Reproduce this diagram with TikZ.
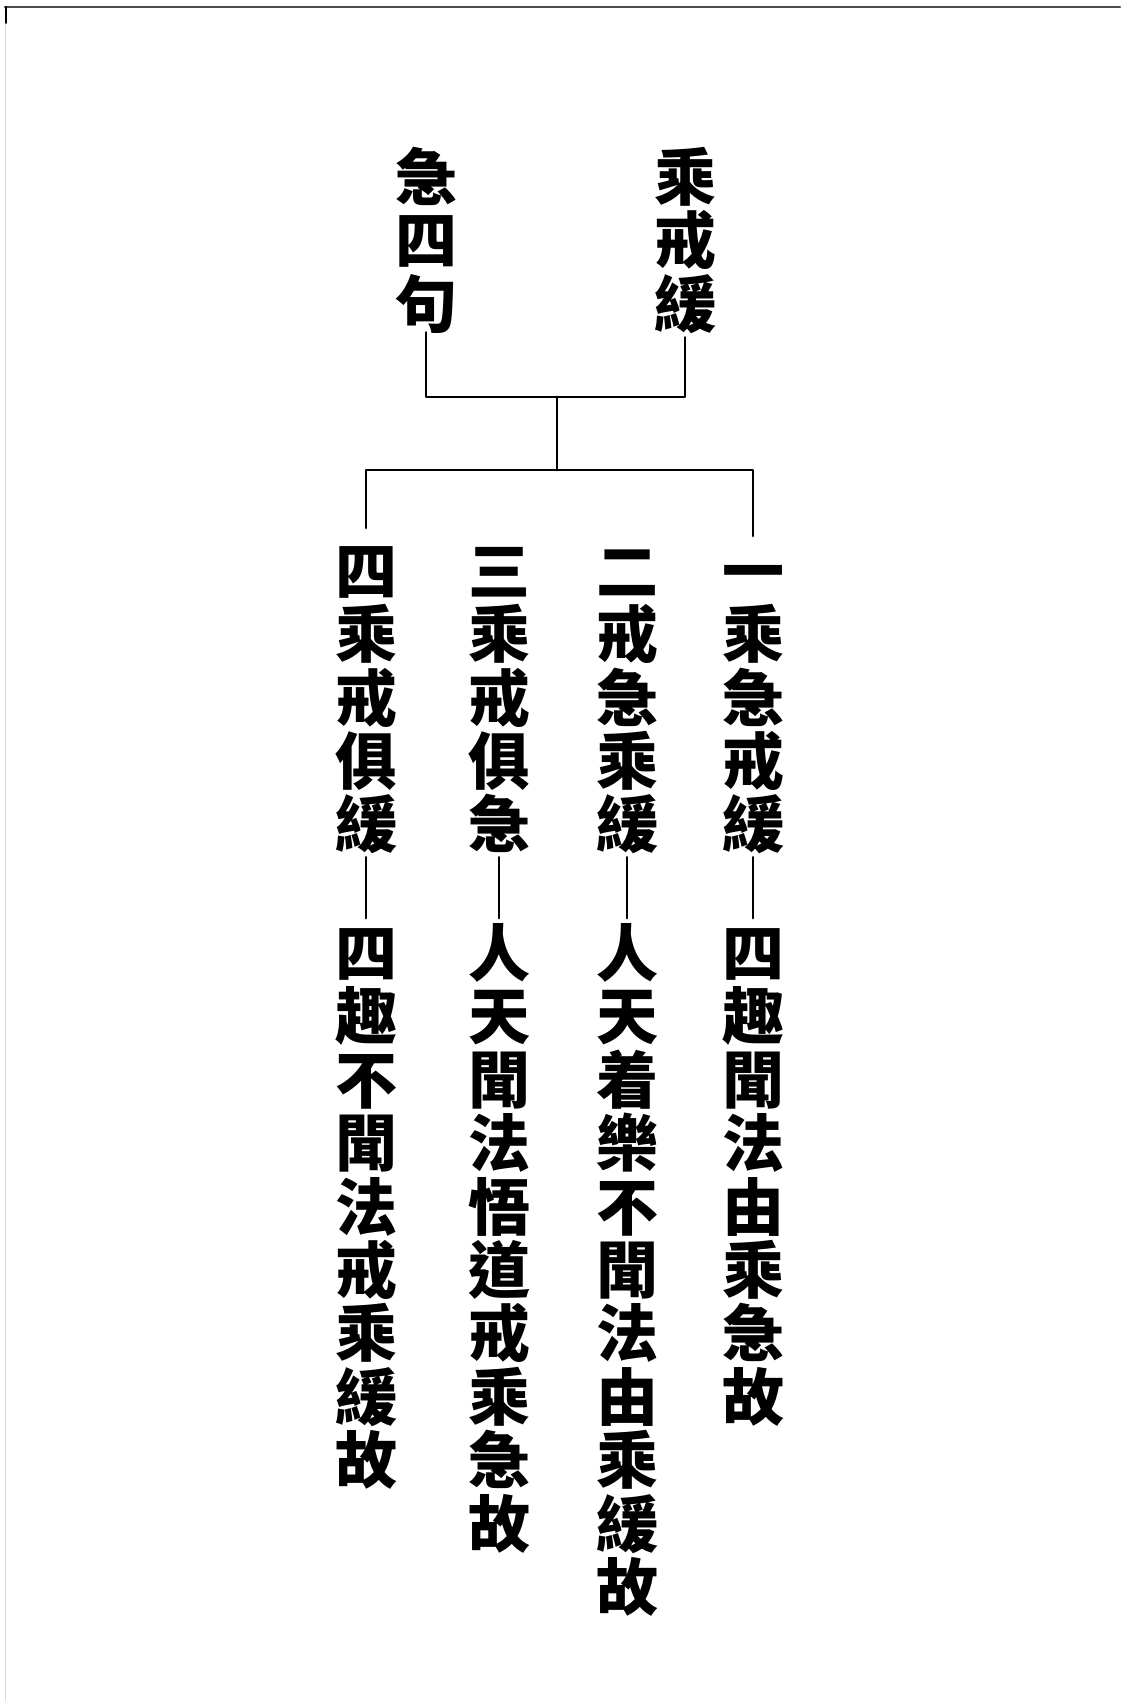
\documentclass[tikz,border=0pt]{standalone}
\usepackage{fontspec}
\newfontfamily\cjk{Noto Sans CJK TC}
\usetikzlibrary{positioning}
\XeTeXuseglyphmetrics=0
\newcommand\colfont{\cjk\bfseries\fontsize{31}{31.7}\selectfont\lineskiplimit=-100pt\relax}
\tikzset{
  col/.style={font=\colfont,align=center,inner sep=0pt,anchor=north},
  link/.style={line width=1.4pt},
  bar/.style={line width=1.3pt,shorten <=-4.5pt,shorten >=-7pt},
}
\begin{document}
\begin{tikzpicture}[x=0.5pt,y=-0.5pt,line join=round,line cap=round]
\useasboundingbox (0,0) rectangle (1120,1701);
% edge of the scanned page
\draw[gray!30,line width=0.8pt] (5.5,7) -- (5.5,1701);
\draw[black!70,line width=1.2pt] (5,7) -- (1120,7);
\draw[line width=1pt] (6,7) -- (6,23);

% two heads
\node[col] (ju) at (426,128) {急\\四\\句};
\node[col] (sheng) at (685,128) {乘\\戒\\緩};
\coordinate (hub) at (557,397);
\coordinate (fork) at (557,470);
\draw[link] ([yshift=6.5pt]ju.south) |- (hub) -| ([yshift=4pt]sheng.south);
\draw[link] (hub) -- (fork);

% four sentences
\node[col] (h1) at (753,522) {一\\乘\\急\\戒\\緩};
\node[col,below=19pt of h1] (t1) {四\\趣\\聞\\法\\由\\乘\\急\\故};
\node[col] (h2) at (627,522) {二\\戒\\急\\乘\\緩};
\node[col,below=19pt of h2] (t2) {人\\天\\着\\樂\\不\\聞\\法\\由\\乘\\緩\\故};
\node[col] (h3) at (499,522) {三\\乘\\戒\\俱\\急};
\node[col,below=19pt of h3] (t3) {人\\天\\聞\\法\\悟\\道\\戒\\乘\\急\\故};
\node[col] (h4) at (366,522) {四\\乘\\戒\\俱\\緩};
\node[col,below=19pt of h4] (t4) {四\\趣\\不\\聞\\法\\戒\\乘\\緩\\故};
\draw[link] ([yshift=-3pt]h4.north) |- (fork) -| ([yshift=-7pt]h1.north);
\draw[bar] (h1) -- (t1);
\draw[bar] (h2) -- (t2);
\draw[bar] (h3) -- (t3);
\draw[bar] (h4) -- (t4);
\end{tikzpicture}
\end{document}
